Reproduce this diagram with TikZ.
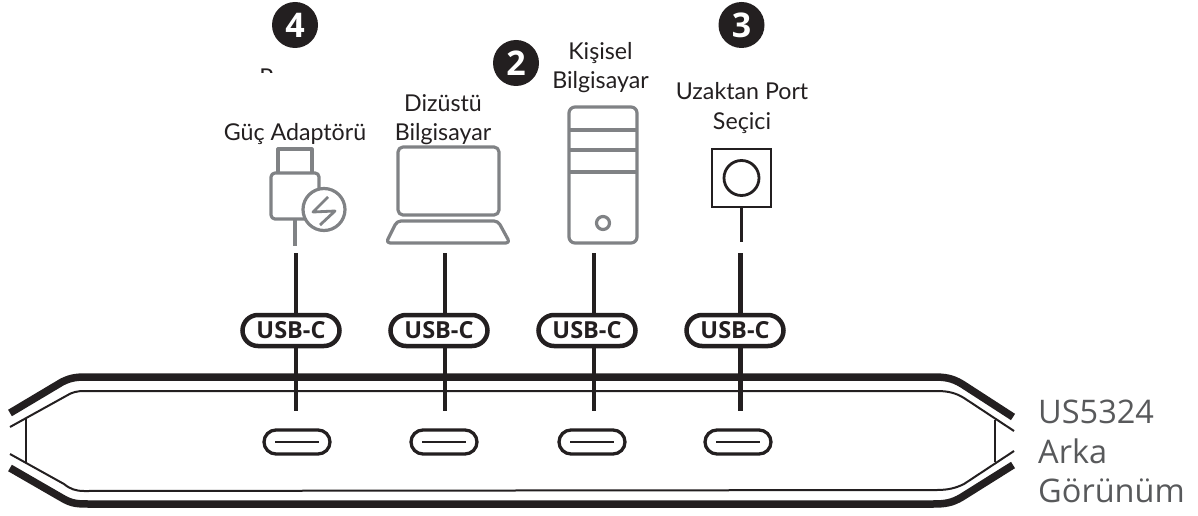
\documentclass[tikz,border=0pt]{standalone}
\usepackage{fontspec}
\setmainfont{Lato}
\newfontfamily\capfont{Open Sans}
\definecolor{ink}{HTML}{231F20}
\definecolor{devgray}{HTML}{808285}
\definecolor{caption}{HTML}{58595B}
\tikzset{
  lbl/.style={anchor=base,inner sep=0pt,text=ink,font=\fontsize{23.2}{28}\selectfont},
  captxt/.style={anchor=base west,inner sep=0pt,text=caption,font=\capfont\fontsize{32.5}{38}\selectfont},
  badge/.style={circle,fill=ink,text=white,minimum size=46pt,inner sep=0pt,font=\capfont\fontsize{34}{36}\selectfont\bfseries},
  pill/.style={draw=ink,line width=4.5pt,fill=white,rounded corners=15.5pt,minimum width=97pt,minimum height=31pt,inner sep=0pt,text=ink,font=\capfont\fontsize{23.5}{26}\selectfont\bfseries},
  wire/.style={draw=ink,line width=4.5pt},
  dev/.style={draw=devgray,line width=3.2pt,line join=round},
  thick hub/.style={draw=ink,line width=7.5pt},
  thin hub/.style={draw=ink,line width=2pt},
  port/.style={draw=ink,line width=3.3pt,fill=white,rounded corners=12pt,minimum width=66pt,minimum height=24pt,inner sep=0pt},
}
\begin{document}
\begin{tikzpicture}[x=1pt,y=-1pt]
\useasboundingbox (0,0) rectangle (1198,516);
% badges
\node[badge] (b4) at (295,25) {4};
\node[badge] (b2) at (516,63) {2};
\node[badge] (b3) at (741.5,25) {3};
% clipped label
\begin{scope}
  \clip (240,60) rectangle (350,73);
  \node[lbl] (power) at (292,86) {Power};
\end{scope}
% labels
\node[lbl] (l1) at (295,140) {Güç Adaptörü};
\node[lbl] (l2a) at (443,111) {Dizüstü};
\node[lbl] (l2b) at (443,140) {Bilgisayar};
\node[lbl] (l3a) at (600.5,60) {Kişisel};
\node[lbl] (l3b) at (600.5,89) {Bilgisayar};
\node[lbl] (l4a) at (742,100) {Uzaktan Port};
\node[lbl] (l4b) at (742,129) {Seçici};
% adapter
\draw[dev] (278,173) -- (278,149) -- (312,149) -- (312,173);
\draw[dev,rounded corners=4pt] (271,173) rectangle (319,219);
\draw[dev] (295,219) -- (295,246);
\draw[dev,fill=white] (324,209.5) circle (21);
\draw[dev,line width=2.8pt] (328,197) -- (313,212) -- (335,211) -- (320,225);
% laptop
\draw[dev,rounded corners=5pt] (398,147) rectangle (499,215);
\draw[dev,rounded corners=4pt] (397,221) -- (498,221) -- (510,243) -- (386,243) -- cycle;
% pc
\draw[dev,rounded corners=6pt] (569,107) rectangle (637,243);
\draw[dev] (569,130) -- (637,130) (569,150) -- (637,150) (569,172) -- (637,172);
\draw[dev] (603,223) circle (6.5);
% remote
\draw[draw=ink,line width=2.8pt] (712,149) rectangle (771,207);
\draw[draw=ink,line width=2.8pt] (741.5,178) circle (17.5);
\draw[draw=ink,line width=2.8pt] (741.5,207) -- (741.5,242);
% hub
\draw[thick hub] (10,413) -- (62,382) .. controls (72,377) and (78,377) .. (90,377) -- (933,377)
  .. controls (945,377) and (952,378) .. (962,384) -- (1013,417);
\draw[thick hub] (10,468) -- (62,498) .. controls (72,504) and (78,504) .. (90,504) -- (933,504)
  .. controls (945,504) and (952,503) .. (962,497) -- (1013,465);
\draw[thin hub] (10,427) -- (66,396) .. controls (72,392) and (78,391) .. (84,391) -- (937,391)
  .. controls (948,391) and (956,393) .. (964,398) -- (1014,431);
\draw[thin hub] (10,454) -- (64,484) .. controls (70,489) and (76,491) .. (84,491) -- (937,490)
  .. controls (948,490) and (956,488) .. (964,484) -- (1014,451);
\draw[thin hub] (26,418) -- (26,463);
\draw[thin hub] (995,420) -- (995,462);
% pills, ports, wires
\foreach \n/\px/\wx/\cx in {1/291/296/297,2/439/445/444,3/587/594/592,4/735/740.5/738}{
  \coordinate (top\n) at (\wx,253);
  \coordinate (low\n) at (\wx,411);
  \node[pill] (pill\n) at (\px,330.5) {USB-C};
  \draw[wire] (top\n) -- (top\n |- pill\n.north);
  \draw[wire] (low\n |- pill\n.south) -- (low\n);
  \node[port] (port\n) at (\cx,442) {};
  \draw[draw=ink,line width=2pt] ([xshift=13pt]port\n.west) -- ([xshift=-13pt]port\n.east);
}
% caption
\node[captxt] (c1) at (1038,423) {US5324};
\node[captxt] (c2) at (1038,463) {Arka};
\node[captxt] (c3) at (1038,502) {Görünüm};
\end{tikzpicture}
\end{document}
